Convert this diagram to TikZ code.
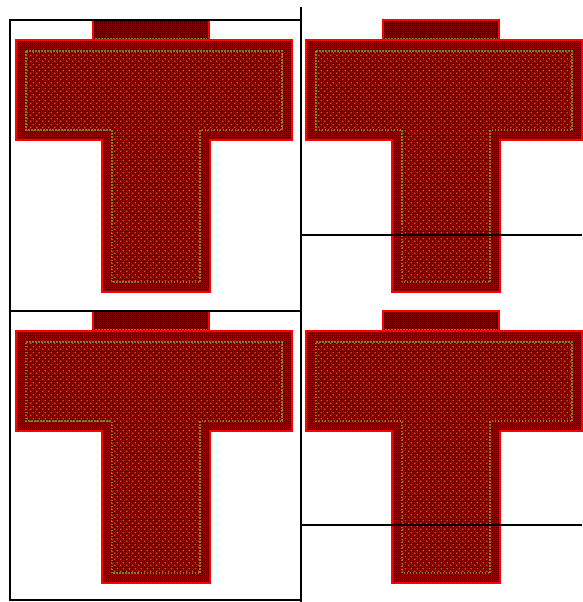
\documentclass[tikz,border=0pt]{standalone}
\usetikzlibrary{patterns}
\pgfdeclarepatternformonly{checkerpx}{\pgfpointorigin}{\pgfpoint{2pt}{2pt}}{\pgfpoint{2pt}{2pt}}{%
  \pgfpathrectangle{\pgfpointorigin}{\pgfpoint{1pt}{1pt}}%
  \pgfpathrectangle{\pgfpoint{1pt}{1pt}}{\pgfpoint{1pt}{1pt}}%
  \pgfusepath{fill}}
\pgfdeclarepatternformonly{greendots}{\pgfpointorigin}{\pgfpoint{6pt}{6pt}}{\pgfpoint{6pt}{6pt}}{%
  \pgfpathrectangle{\pgfpoint{0pt}{0pt}}{\pgfpoint{1.6pt}{1.6pt}}%
  \pgfpathrectangle{\pgfpoint{3pt}{3pt}}{\pgfpoint{1.6pt}{1.6pt}}%
  \pgfusepath{fill}}
\definecolor{basered}{RGB}{165,0,0}
\definecolor{olivegreen}{RGB}{110,130,50}
\tikzset{
  edge/.style={draw=red, line width=2.2pt, line join=miter},
  frameline/.style={draw=black, line width=1.6pt},
  innerdots/.style={draw=olivegreen, line width=1.6pt, dash pattern=on 1.5pt off 1.5pt},
}
\newcommand{\tshape}[2]{%
  \begin{scope}[shift={(#1,#2)}]
    % tab
    \fill[basered!85!black] (93,20) rectangle (209,40);
    \fill[pattern=checkerpx, pattern color=black] (93,20) rectangle (209,40);
    \draw[edge] (93,40) -- (93,20) -- (209,20) -- (209,40);
    \draw[innerdots] (95,39) -- (207,39);
    % T body
    \fill[basered] (16,40) -- (292,40) -- (292,140) -- (210,140) -- (210,292) -- (102,292) -- (102,140) -- (16,140) -- cycle;
    \fill[pattern=checkerpx, pattern color=black] (16,40) -- (292,40) -- (292,140) -- (210,140) -- (210,292) -- (102,292) -- (102,140) -- (16,140) -- cycle;
    \fill[pattern=greendots, pattern color=olivegreen] (25,50) -- (283,50) -- (283,131) -- (201,131) -- (201,283) -- (111,283) -- (111,131) -- (25,131) -- cycle;
    \draw[innerdots] (26,51) -- (282,51) -- (282,130) -- (200,130) -- (200,282) -- (112,282) -- (112,130) -- (26,130) -- cycle;
    \draw[edge] (16,40) -- (292,40) -- (292,140) -- (210,140) -- (210,292) -- (102,292) -- (102,140) -- (16,140) -- cycle;
  \end{scope}}
\begin{document}
\begin{tikzpicture}[x=1pt,y=-1pt]
  \useasboundingbox (0,0) rectangle (582,602);
  \fill[white] (0,0) rectangle (582,602);
  \tshape{0}{0}
  \tshape{290}{0}
  \tshape{0}{291}
  \tshape{290}{291}
  % frame lines
  \coordinate (tl) at (10,20);
  \coordinate (tr) at (301,20);
  \coordinate (bl) at (10,600);
  \coordinate (br) at (301,600);
  \coordinate (vtop) at (301,7);
  \coordinate (vbot) at (301,602);
  \coordinate (ml) at (10,311);
  \coordinate (mr) at (301,311);
  \coordinate (r1a) at (301,235);
  \coordinate (r1b) at (582,235);
  \coordinate (r2a) at (301,525);
  \coordinate (r2b) at (582,525);
  \draw[frameline] (tr) -- (tl) -- (bl) -- (br);
  \draw[frameline] (vtop) -- (vbot);
  \draw[frameline] (ml) -- (mr);
  \draw[frameline] (r1a) -- (r1b);
  \draw[frameline] (r2a) -- (r2b);
\end{tikzpicture}
\end{document}
